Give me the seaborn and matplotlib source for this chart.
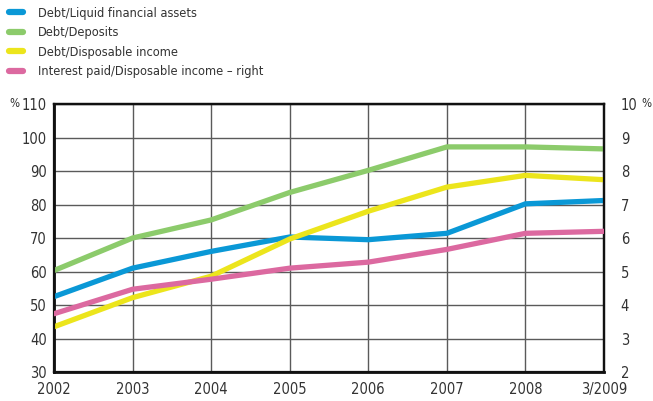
import matplotlib
matplotlib.use("Agg")
import matplotlib.pyplot as plt
from matplotlib.lines import Line2D
import pandas as pd
import seaborn as sns

periods = ["2002", "2003", "2004", "2005", "2006", "2007", "2008", "3/2009"]
debt_liquid_assets = [52.5, 61.0, 66.0, 70.3, 69.5, 71.4, 80.2, 81.2]
debt_deposits = [60.3, 70.0, 75.4, 83.6, 90.2, 97.2, 97.2, 96.6]
debt_disposable_income = [43.5, 52.2, 58.6, 69.7, 78.0, 85.2, 88.7, 87.4]
interest_paid_income = [3.74, 4.47, 4.77, 5.10, 5.28, 5.66, 6.14, 6.20]

series_names = [
    "Debt/Liquid financial assets",
    "Debt/Deposits",
    "Debt/Disposable income",
    "Interest paid/Disposable income \u2013 right",
]
colors = ["#0a98d6", "#8ccb6b", "#ece51c", "#dc69a0"]

left_ticks = [30, 40, 50, 60, 70, 80, 90, 100, 110]
right_ticks = [2, 3, 4, 5, 6, 7, 8, 9, 10]

sns.set_style("white")
plt.rcParams["font.family"] = ["DejaVu Sans"]
plt.rcParams["font.stretch"] = "condensed"
text_color = "#333333"

pos = list(range(len(periods)))
left_df = pd.DataFrame({
    "pos": pos * 3,
    "value": debt_liquid_assets + debt_deposits + debt_disposable_income,
    "series": [series_names[0]] * 8 + [series_names[1]] * 8 + [series_names[2]] * 8,
})
right_df = pd.DataFrame({"pos": pos, "value": interest_paid_income,
                         "series": series_names[3]})

fig = plt.figure(figsize=(6.53, 4.01), dpi=100)
ax = fig.add_axes([0.0827, 0.0723, 0.8423, 0.6683])
ax2 = ax.twinx()

# grid drawn on the left axis
ax.set_xlim(0, len(periods) - 1)
ax.set_ylim(30, 110)
ax.set_yticks(left_ticks)
ax.set_xticks(pos)
ax.set_xticklabels(periods)
ax.grid(True, color="#5a5a5a", linewidth=1.0)
ax.set_axisbelow(True)

sns.lineplot(data=left_df, x="pos", y="value", hue="series",
             palette=colors[:3], hue_order=series_names[:3],
             linewidth=3.8, ax=ax, legend=False, zorder=3)
sns.lineplot(data=right_df, x="pos", y="value", color=colors[3],
             linewidth=3.8, ax=ax2, legend=False, zorder=3)

ax2.set_ylim(2, 10)
ax2.set_yticks(right_ticks)
ax2.set_xlim(0, len(periods) - 1)

for a in (ax, ax2):
    a.set_xlabel("")
    a.set_ylabel("")
    a.tick_params(length=0, labelsize=10.5, colors=text_color, pad=5)
    for side, sp in a.spines.items():
        sp.set_color("#111111")
        sp.set_linewidth(1.6)
ax.spines["left"].set_linewidth(2.0)
ax.spines["bottom"].set_linewidth(2.0)
ax.tick_params(axis="x", pad=7)
ax2.tick_params(axis="y", pad=12)

fig.text(0.014, 0.742, "%", fontsize=8.5, color=text_color, va="center")
fig.text(0.998, 0.742, "%", fontsize=8.5, color=text_color, va="center", ha="right")

handles = [Line2D([0], [0], color=c, linewidth=4.5) for c in colors]
fig.legend(handles, series_names, loc="upper left", bbox_to_anchor=(0.0, 1.006),
           frameon=False, fontsize=9.2, handlelength=1.1, handletextpad=1.2,
           labelspacing=0.52, labelcolor=text_color, borderaxespad=0.3)

fig.savefig("out.png", dpi=100)
